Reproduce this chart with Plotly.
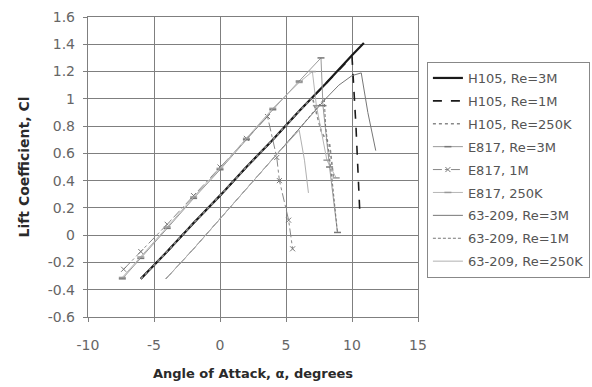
import plotly.graph_objects as go

# ---- data ----
x_tick_vals = [-10, -5, 0, 5, 10, 15]
x_tick_text = ["-10", "-5", "0", "5", "10", "15"]
y_tick_vals = [-0.6, -0.4, -0.2, 0, 0.2, 0.4, 0.6, 0.8, 1.0, 1.2, 1.4, 1.6]
y_tick_text = ["-0.6", "-0.4", "-0.2", "0", "0.2", "0.4", "0.6", "0.8", "1", "1.2", "1.4", "1.6"]

h105_3m_x = [-6.0, -4.0, -2.0, 0.0, 2.0, 4.0, 6.0, 8.0, 10.0, 10.9]
h105_3m_y = [-0.32, -0.12, 0.09, 0.29, 0.50, 0.70, 0.91, 1.11, 1.32, 1.41]

h105_1m_x = [-6.0, -4.0, -2.0, 0.0, 2.0, 4.0, 6.0, 8.0, 10.0, 10.3, 10.6]
h105_1m_y = [-0.32, -0.12, 0.09, 0.29, 0.50, 0.70, 0.91, 1.11, 1.31, 0.80, 0.15]

h105_250k_x = [-6.0, -4.0, -2.0, 0.0, 2.0, 4.0, 6.0, 7.0, 7.7, 8.3, 8.6]
h105_250k_y = [-0.32, -0.12, 0.09, 0.29, 0.50, 0.70, 0.91, 1.01, 0.75, 0.67, 0.42]

e817_3m_x = [-7.4, -6.0, -4.0, -2.0, 0.0, 2.0, 4.0, 6.0, 7.65, 7.8, 8.3, 8.9]
e817_3m_y = [-0.32, -0.17, 0.05, 0.27, 0.48, 0.70, 0.92, 1.13, 1.30, 0.95, 0.50, 0.02]

e817_1m_x = [-7.3, -6.0, -4.0, -2.0, 0.0, 2.0, 3.6, 4.3, 4.5, 5.2, 5.5]
e817_1m_y = [-0.25, -0.12, 0.08, 0.29, 0.50, 0.71, 0.87, 0.57, 0.40, 0.11, -0.10]

e817_250k_x = [-7.4, -6.0, -4.0, -2.0, 0.0, 2.0, 4.0, 6.0, 7.0, 7.3, 8.1, 8.8]
e817_250k_y = [-0.31, -0.16, 0.06, 0.28, 0.49, 0.71, 0.93, 1.12, 1.20, 0.95, 0.55, 0.42]

s63_3m_x = [-4.1, -2.0, 0.0, 2.0, 4.0, 6.0, 8.0, 9.0, 10.0, 10.7, 11.2, 11.8]
s63_3m_y = [-0.32, -0.10, 0.12, 0.34, 0.56, 0.78, 1.00, 1.10, 1.17, 1.19, 0.90, 0.62]

s63_1m_x = [-4.1, -2.0, 0.0, 2.0, 4.0, 6.0, 7.9, 8.0, 8.5, 8.9]
s63_1m_y = [-0.32, -0.10, 0.12, 0.34, 0.56, 0.78, 1.00, 0.80, 0.40, 0.02]

s63_250k_x = [-4.1, -2.0, 0.0, 2.0, 4.0, 6.0, 6.4, 6.7]
s63_250k_y = [-0.32, -0.10, 0.12, 0.34, 0.56, 0.77, 0.55, 0.31]

series = [
    ("H105, Re=3M", h105_3m_x, h105_3m_y, dict(color="#1a1a1a", width=2.2, dash="solid"), None),
    ("H105, Re=1M", h105_1m_x, h105_1m_y, dict(color="#1a1a1a", width=1.6, dash="dash"), None),
    ("H105, Re=250K", h105_250k_x, h105_250k_y, dict(color="#888888", width=1.6, dash="dot"), None),
    ("E817, Re=3M", e817_3m_x, e817_3m_y, dict(color="#999999", width=1.0, dash="solid"),
     dict(symbol="line-ew", size=5, color="#777777", line=dict(width=1.5, color="#777777"))),
    ("E817, 1M", e817_1m_x, e817_1m_y, dict(color="#888888", width=1.0, dash="dashdot"),
     dict(symbol="x-thin", size=5, color="#777777", line=dict(width=1, color="#777777"))),
    ("E817, 250K", e817_250k_x, e817_250k_y, dict(color="#b5b5b5", width=1.0, dash="solid"),
     dict(symbol="line-ew", size=5, color="#999999", line=dict(width=1.5, color="#999999"))),
    ("63-209, Re=3M", s63_3m_x, s63_3m_y, dict(color="#777777", width=1.0, dash="solid"), None),
    ("63-209, Re=1M", s63_1m_x, s63_1m_y, dict(color="#777777", width=1.0, dash="3px,2px"), None),
    ("63-209, Re=250K", s63_250k_x, s63_250k_y, dict(color="#b0b0b0", width=1.0, dash="solid"), None),
]

fig = go.Figure()
for i, (name, xs, ys, line, marker) in enumerate(series):
    kw = dict(x=xs, y=ys, name=name, line=line, legendgroup="g%d" % i)
    if marker:
        kw["mode"] = "lines+markers"
        kw["marker"] = marker
    else:
        kw["mode"] = "lines"
    fig.add_trace(go.Scatter(**kw))

font_family = "DejaVu Sans, Liberation Sans, Arial, sans-serif"
fig.update_layout(
    width=592, height=387,
    margin=dict(l=88, r=174, t=17, b=70, autoexpand=False),
    paper_bgcolor="white", plot_bgcolor="white",
    font=dict(family=font_family, size=13, color="#555555"),
    showlegend=True,
    legend=dict(
        x=1.027, y=0.85, xanchor="left", yanchor="top",
        bordercolor="#888888", borderwidth=1, bgcolor="white",
        font=dict(size=13, color="#555555"),
        traceorder="grouped", tracegroupgap=3, itemwidth=30,
    ),
)
fig.update_xaxes(
    range=[-10, 15], tickvals=x_tick_vals, ticktext=x_tick_text,
    showgrid=True, gridcolor="#7f7f7f", gridwidth=1.4,
    showline=True, linecolor="#7f7f7f", linewidth=1.4, mirror=True,
    ticks="outside", ticklen=4, tickcolor="#7f7f7f",
    ticklabelstandoff=11,
    zeroline=False,
    tickfont=dict(size=14, color="#666666"),
    title=dict(text="<b>Angle of Attack, α, degrees</b>", font=dict(size=13, color="#2a2a2a"), standoff=16),
)
fig.update_yaxes(
    range=[-0.6, 1.6], tickvals=y_tick_vals, ticktext=y_tick_text,
    showgrid=True, gridcolor="#7f7f7f", gridwidth=1.4,
    showline=True, linecolor="#7f7f7f", linewidth=1.4, mirror=True,
    ticks="outside", ticklen=4, tickcolor="#7f7f7f",
    ticklabelstandoff=5,
    zeroline=False,
    tickfont=dict(size=14, color="#666666"),
    title=dict(text="<b>Lift Coefficient, Cl</b>", font=dict(size=14, color="#2a2a2a"), standoff=14),
)

fig.write_html("out.html")
